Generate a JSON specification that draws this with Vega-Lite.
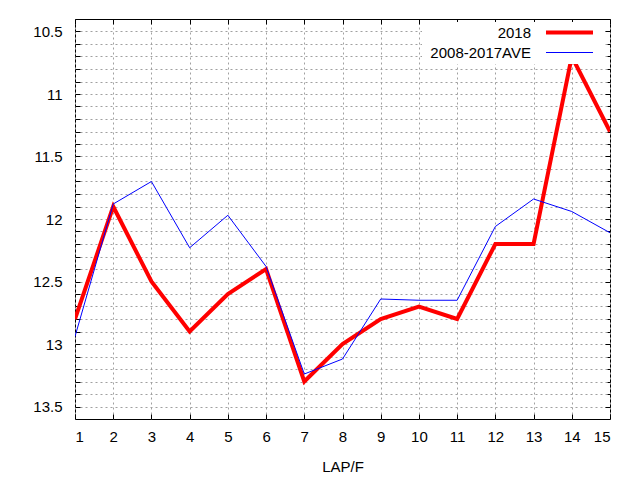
{
  "$schema": "https://vega.github.io/schema/vega-lite/v6.json",
  "width": 535,
  "height": 400,
  "autosize": {"type": "none"},
  "padding": {"left": 75, "top": 19, "right": 30, "bottom": 61},
  "background": "white",
  "config": {
    "view": {"stroke": "black", "strokeWidth": 1},
    "font": "Liberation Sans",
    "axis": {
      "labelFont": "Liberation Sans",
      "labelFontSize": 15,
      "labelColor": "black",
      "titleFont": "Liberation Sans",
      "titleFontSize": 15,
      "titleFontWeight": "normal",
      "titleColor": "black",
      "domain": false,
      "gridColor": "#a0a0a0",
      "gridDash": [2, 3],
      "gridWidth": 1,
      "tickColor": "black",
      "tickWidth": 1
    }
  },
  "data": {
    "values": [
      {"lap": 1, "series": "2018", "time": 12.8},
      {"lap": 2, "series": "2018", "time": 11.9},
      {"lap": 3, "series": "2018", "time": 12.5},
      {"lap": 4, "series": "2018", "time": 12.9},
      {"lap": 5, "series": "2018", "time": 12.6},
      {"lap": 6, "series": "2018", "time": 12.4},
      {"lap": 7, "series": "2018", "time": 13.3},
      {"lap": 8, "series": "2018", "time": 13.0},
      {"lap": 9, "series": "2018", "time": 12.8},
      {"lap": 10, "series": "2018", "time": 12.7},
      {"lap": 11, "series": "2018", "time": 12.8},
      {"lap": 12, "series": "2018", "time": 12.2},
      {"lap": 13, "series": "2018", "time": 12.2},
      {"lap": 14, "series": "2018", "time": 10.7},
      {"lap": 15, "series": "2018", "time": 11.3},
      {"lap": 1, "series": "2008-2017AVE", "time": 12.94},
      {"lap": 2, "series": "2008-2017AVE", "time": 11.88},
      {"lap": 3, "series": "2008-2017AVE", "time": 11.7},
      {"lap": 4, "series": "2008-2017AVE", "time": 12.23},
      {"lap": 5, "series": "2008-2017AVE", "time": 11.97},
      {"lap": 6, "series": "2008-2017AVE", "time": 12.38},
      {"lap": 7, "series": "2008-2017AVE", "time": 13.24},
      {"lap": 8, "series": "2008-2017AVE", "time": 13.12},
      {"lap": 9, "series": "2008-2017AVE", "time": 12.64},
      {"lap": 10, "series": "2008-2017AVE", "time": 12.65},
      {"lap": 11, "series": "2008-2017AVE", "time": 12.65},
      {"lap": 12, "series": "2008-2017AVE", "time": 12.06},
      {"lap": 13, "series": "2008-2017AVE", "time": 11.84},
      {"lap": 14, "series": "2008-2017AVE", "time": 11.94},
      {"lap": 15, "series": "2008-2017AVE", "time": 12.11}
    ]
  },
  "encoding": {
    "color": {
      "field": "series",
      "type": "nominal",
      "sort": ["2018", "2008-2017AVE"],
      "scale": {"domain": ["2018", "2008-2017AVE"], "range": ["#ff0000", "#0000ff"]},
      "legend": {
        "title": null,
        "orient": "none",
        "legendX": 347,
        "legendY": 3,
        "fillColor": "white",
        "padding": 3,
        "symbolType": "M-4.7,0L4.7,0",
        "symbolSize": 100,
        "symbolOffset": 137,
        "labelFont": "Liberation Sans",
        "labelFontSize": 15,
        "labelColor": "black",
        "labelAlign": "right",
        "labelOffset": -46,
        "rowPadding": 4
      }
    },
    "strokeWidth": {
      "field": "series",
      "type": "nominal",
      "sort": ["2018", "2008-2017AVE"],
      "scale": {"domain": ["2018", "2008-2017AVE"], "range": [4, 1]},
      "legend": null
    }
  },
  "layer": [
    {
      "transform": [{"filter": "datum.series === '2018'"}],
      "mark": {"type": "line", "clip": true},
      "encoding": {
        "x": {
          "field": "lap",
          "type": "quantitative",
          "title": "LAP/F",
          "scale": {"domain": [1, 15], "nice": false, "zero": false},
          "axis": {
            "orient": "bottom",
            "values": [1, 2, 3, 4, 5, 6, 7, 8, 9, 10, 11, 12, 13, 14, 15],
            "format": "d",
            "grid": true,
            "ticks": true,
            "tickSize": -5,
            "labelPadding": 15,
            "titlePadding": 15
          }
        },
        "y": {
          "field": "time",
          "type": "quantitative",
          "title": null,
          "scale": {"domain": [10.4, 13.6], "reverse": true, "nice": false, "zero": false},
          "axis": {
            "orient": "left",
            "values": [10.5, 10.6, 10.7, 10.8, 10.9, 11, 11.1, 11.2, 11.3, 11.4, 11.5, 11.6, 11.7, 11.8, 11.9, 12, 12.1, 12.2, 12.3, 12.4, 12.5, 12.6, 12.7, 12.8, 12.9, 13, 13.1, 13.2, 13.3, 13.4, 13.5],
            "format": "~g",
            "labelExpr": "abs(datum.value * 2 - round(datum.value * 2)) < 0.001 ? datum.label : ''",
            "grid": true,
            "ticks": true,
            "tickSize": -5,
            "labelPadding": 18
          }
        }
      }
    },
    {
      "transform": [{"filter": "datum.series === '2008-2017AVE'"}],
      "mark": {"type": "line", "clip": true},
      "encoding": {
        "x": {
          "field": "lap",
          "type": "quantitative",
          "scale": {"domain": [1, 15], "nice": false, "zero": false},
          "axis": {
            "orient": "top",
            "title": null,
            "values": [1, 2, 3, 4, 5, 6, 7, 8, 9, 10, 11, 12, 13, 14, 15],
            "labels": false,
            "grid": false,
            "ticks": true,
            "tickSize": -5
          }
        },
        "y": {
          "field": "time",
          "type": "quantitative",
          "scale": {"domain": [10.4, 13.6], "reverse": true, "nice": false, "zero": false},
          "axis": {
            "orient": "right",
            "title": null,
            "values": [10.5, 10.6, 10.7, 10.8, 10.9, 11, 11.1, 11.2, 11.3, 11.4, 11.5, 11.6, 11.7, 11.8, 11.9, 12, 12.1, 12.2, 12.3, 12.4, 12.5, 12.6, 12.7, 12.8, 12.9, 13, 13.1, 13.2, 13.3, 13.4, 13.5],
            "labels": false,
            "grid": false,
            "ticks": true,
            "tickSize": {
              "condition": {"test": "abs(datum.value * 2 - round(datum.value * 2)) < 0.001", "value": -5},
              "value": -3
            }
          }
        }
      }
    }
  ],
  "resolve": {"axis": {"x": "independent", "y": "independent"}}
}
